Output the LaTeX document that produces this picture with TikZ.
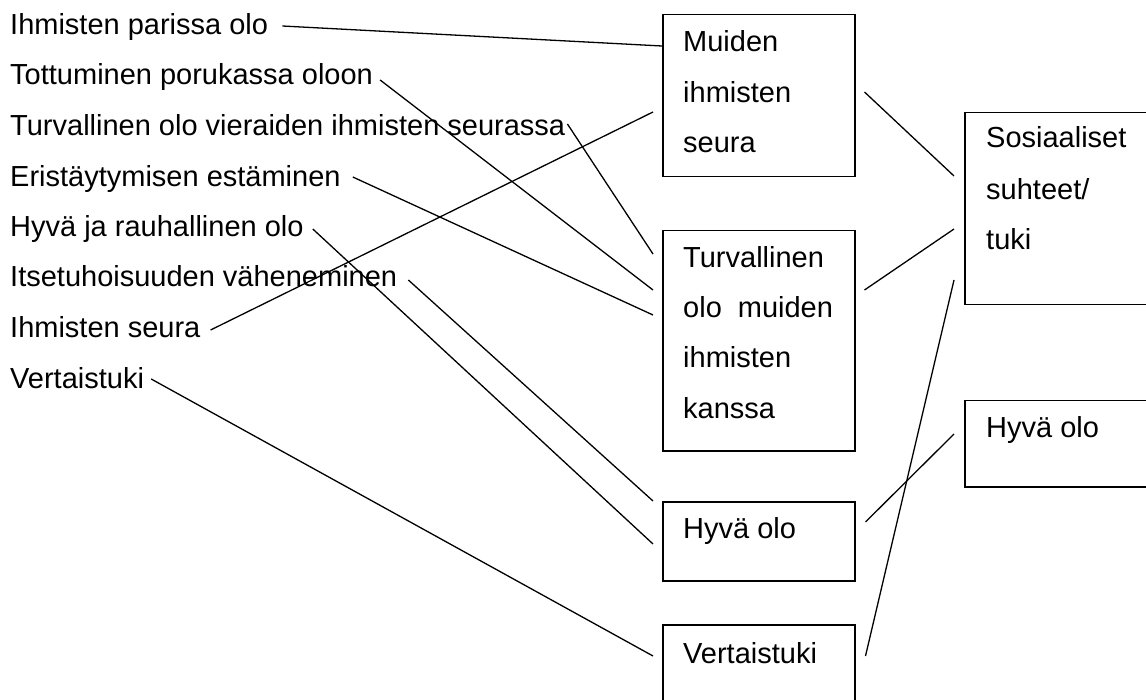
\documentclass[tikz,border=0pt]{standalone}
\usepackage{fontspec}
\setmainfont{Liberation Sans}
\begin{document}
\begin{tikzpicture}[x=1pt,y=1pt,
  lbl/.style={anchor=base west,inner sep=0pt,font=\fontsize{29}{35}\selectfont},
  boxnode/.style={draw,line width=1.5pt,anchor=north west,inner sep=0pt,minimum width=192pt},
  rbox/.style={draw,line width=1.5pt,anchor=north west,inner sep=0pt,minimum width=186pt},
  conn/.style={line width=1.3pt}]
\useasboundingbox (0,0) rectangle (1146,-700);
% boxes
\node[boxnode,minimum height=162pt] (b1) at (662,-14) {};
\node[boxnode,minimum height=220pt] (b2) at (662,-230) {};
\node[boxnode,minimum height=79pt] (b3) at (662,-501) {};
\node[boxnode,minimum height=90pt] (b4) at (662,-624) {};
\node[rbox,minimum height=192pt] (r1) at (964,-112) {};
\node[rbox,minimum height=86pt] (r2) at (964,-400) {};
% box texts
\node[lbl] (b1a) at (683,-52) {Muiden};
\node[lbl] (b1b) at (683,-103) {ihmisten};
\node[lbl] (b1c) at (683,-153) {seura};
\node[lbl] (b2a) at (683,-268) {Turvallinen};
\node[lbl] (b2b) at (683,-318) {olo\hspace{16pt}muiden};
\node[lbl] (b2c) at (683,-368) {ihmisten};
\node[lbl] (b2d) at (683,-418) {kanssa};
\node[lbl] (b3a) at (683,-538) {Hyvä olo};
\node[lbl] (b4a) at (683,-663) {Vertaistuki};
\node[lbl] (r1a) at (986,-148) {Sosiaaliset};
\node[lbl] (r1b) at (986,-200) {suhteet/};
\node[lbl] (r1c) at (986,-250) {tuki};
\node[lbl] (r2a) at (986,-438) {Hyvä olo};
% left texts
\node[lbl] (t1) at (10,-35) {Ihmisten parissa olo};
\node[lbl] (t2) at (10,-85) {Tottuminen porukassa oloon};
\node[lbl] (t3) at (10,-136) {Turvallinen olo vieraiden ihmisten seurassa};
\node[lbl] (t4) at (10,-187) {Eristäytymisen estäminen};
\node[lbl] (t5) at (10,-237) {Hyvä ja rauhallinen olo};
\node[lbl] (t6) at (10,-287) {Itsetuhoisuuden väheneminen};
\node[lbl] (t7) at (10,-338) {Ihmisten seura};
\node[lbl] (t8) at (10,-389) {Vertaistuki};
% connectors from left texts
\draw[conn] ([shift={(14,9)}]t1.base east) -- ([shift={(0,-32)}]b1.north west);
\draw[conn] ([shift={(7,5)}]t2.base east) -- ([shift={(-9,-60)}]b2.north west);
\draw[conn] ([shift={(2,12)}]t3.base east) -- ([shift={(-9,-24)}]b2.north west);
\draw[conn] ([shift={(12,10)}]t4.base east) -- ([shift={(-9,-85)}]b2.north west);
\draw[conn] ([shift={(9,8)}]t5.base east) -- ([shift={(-9,-43)}]b3.north west);
\draw[conn] ([shift={(11,7)}]t6.base east) -- ([shift={(-9,0)}]b3.north west);
\draw[conn] ([shift={(10,8)}]t7.base east) -- ([shift={(-9,-98)}]b1.north west);
\draw[conn] ([shift={(7,10)}]t8.base east) -- ([shift={(-9,-32)}]b4.north west);
% connectors between boxes
\draw[conn] ([shift={(9,-78)}]b1.north east) -- ([shift={(-10,-64)}]r1.north west);
\draw[conn] ([shift={(9,-60)}]b2.north east) -- ([shift={(-10,-117)}]r1.north west);
\draw[conn] ([shift={(10,-21)}]b3.north east) -- ([shift={(-10,-34)}]r2.north west);
\draw[conn] ([shift={(10,-32)}]b4.north east) -- ([shift={(-10,-168)}]r1.north west);
\end{tikzpicture}
\end{document}
